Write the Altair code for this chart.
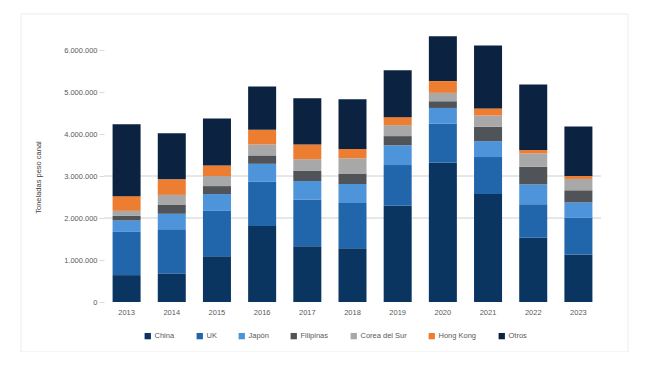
import altair as alt
import pandas as pd

years = ["2013", "2014", "2015", "2016", "2017", "2018", "2019", "2020", "2021", "2022", "2023"]
series = ["China", "UK", "Japón", "Filipinas", "Corea del Sur", "Hong Kong", "Otros"]
colors = ["#0a3561", "#2166ab", "#4d94db", "#505459", "#a8a8a8", "#ed7d31", "#0b2340"]

china = [640000, 680000, 1090000, 1810000, 1330000, 1280000, 2290000, 3320000, 2570000, 1530000, 1130000]
uk = [1030000, 1050000, 1080000, 1050000, 1110000, 1080000, 970000, 930000, 880000, 800000, 880000]
japon = [270000, 370000, 400000, 430000, 440000, 450000, 470000, 370000, 380000, 470000, 360000]
filipinas = [110000, 210000, 190000, 200000, 240000, 250000, 220000, 160000, 340000, 420000, 290000]
corea = [120000, 240000, 240000, 260000, 280000, 360000, 260000, 200000, 270000, 320000, 270000]
hongkong = [350000, 370000, 250000, 350000, 350000, 220000, 190000, 280000, 170000, 80000, 70000]
otros = [1710000, 1100000, 1120000, 1030000, 1100000, 1190000, 1120000, 1070000, 1500000, 1560000, 1180000]

values = [china, uk, japon, filipinas, corea, hongkong, otros]
rows = []
for si, (name, vals) in enumerate(zip(series, values)):
    for y, v in zip(years, vals):
        rows.append({"year": y, "serie": name, "value": v, "ord": si})
df = pd.DataFrame(rows)

font = "Liberation Sans"

bars = alt.Chart(df).mark_bar().encode(
    x=alt.X("year:N", sort=years,
            scale=alt.Scale(paddingInner=0.38, paddingOuter=0.19),
            axis=alt.Axis(title=None, labelAngle=0, ticks=False, domain=False,
                          labelFontSize=7.5, labelColor="#595959", labelPadding=6)),
    y=alt.Y("value:Q", stack="zero",
            scale=alt.Scale(domain=[0, 6500000], nice=False),
            axis=alt.Axis(title="Toneladas peso canal", values=[0, 1000000, 2000000, 3000000, 4000000, 5000000, 6000000],
                          labelExpr="replace(replace(format(datum.value, ','), ',', '.'), ',', '.')",
                          labelFontSize=7.5, labelColor="#595959", labelPadding=2,
                          tickSize=5, tickColor="#d9d9d9", domain=False, grid=False,
                          titleFontSize=7.5, titleFontWeight="normal", titleColor="#404040",
                          titleX=-62, titleY=148, titleAngle=-90, titleAlign="center", titleBaseline="bottom")),
    color=alt.Color("serie:N", sort=series,
                    scale=alt.Scale(domain=series, range=colors),
                    legend=alt.Legend(title=None, orient="none", direction="horizontal",
                                      legendX=40, legendY=303,
                                      symbolType="square", symbolSize=40, symbolStrokeWidth=0,
                                      labelFontSize=7.5, labelColor="#595959",
                                      columnPadding=21, labelOffset=3)),
    order=alt.Order("ord:Q", sort="ascending"),
)

grid = alt.Chart(pd.DataFrame({"g": [2000000, 3000000]})).mark_rule(color="#d0d0d0", strokeWidth=1).encode(
    y="g:Q"
)

frame = alt.Chart(pd.DataFrame({"f": [0]})).mark_rect(fill=None, stroke="#ececec", strokeWidth=1).encode(
    x=alt.value(-83), x2=alt.value(524), y=alt.value(-15), y2=alt.value(323)
)

chart = alt.layer(frame, grid, bars).properties(
    width=497, height=273,
    autosize=alt.AutoSizeParams(type="none"),
    padding={"left": 96, "top": 21, "right": 40, "bottom": 50},
).configure(font=font).configure_view(stroke=None)

chart.save("out.html", embed_options={"renderer": "svg", "actions": False})
